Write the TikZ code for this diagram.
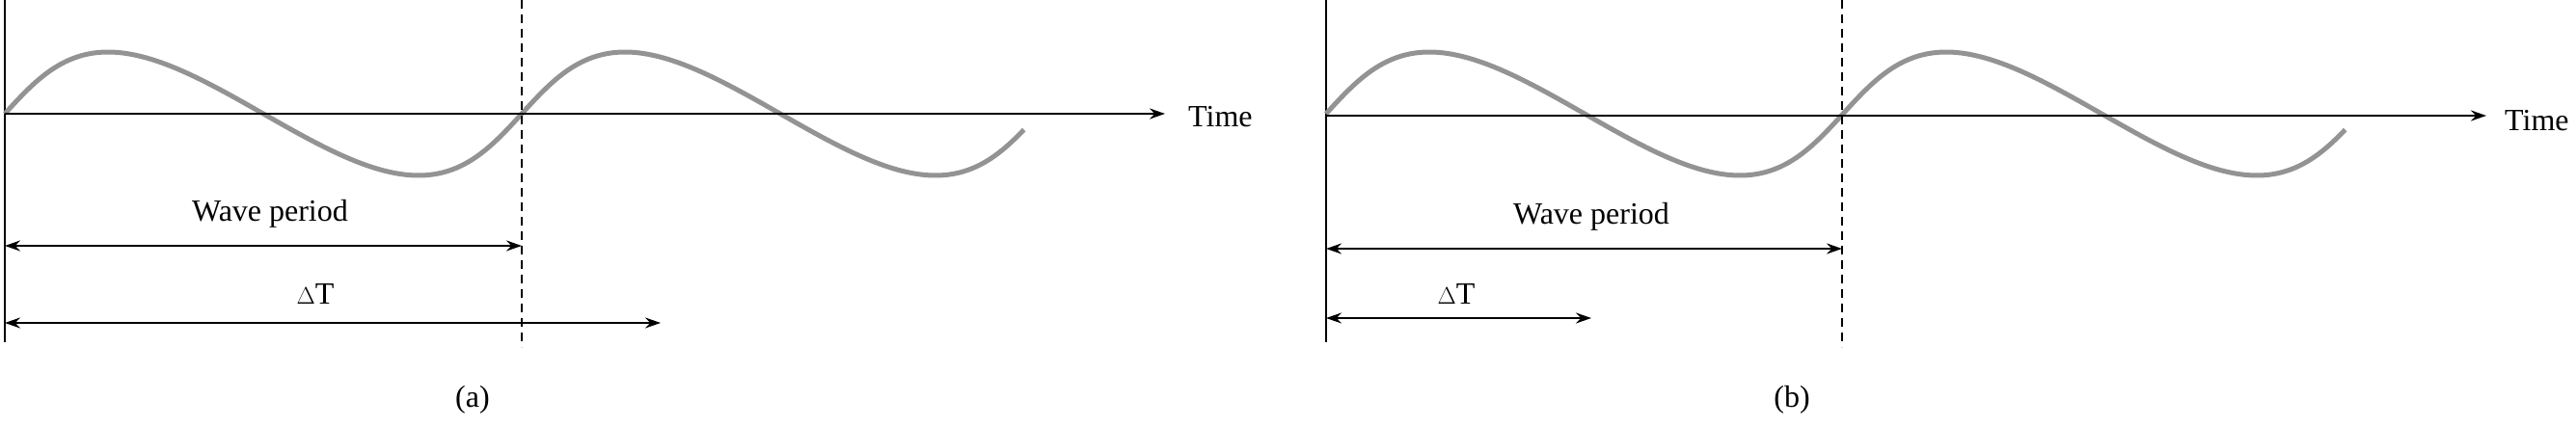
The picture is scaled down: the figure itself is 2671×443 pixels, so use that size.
\documentclass[tikz,border=0pt]{standalone}
\usepackage{fontspec}
\setmainfont{Liberation Serif}
\usetikzlibrary{arrows.meta}
\begin{document}
\begin{tikzpicture}[x=1pt,y=-1pt,
  ax/.style={line width=2.5pt,-{Stealth[length=16pt,width=11pt]}},
  dim/.style={line width=2.2pt,{Stealth[length=16pt,width=11pt]}-{Stealth[length=16pt,width=11pt]}},
  wave/.style={line width=5pt,gray!85},
  dsh/.style={line width=2pt,dash pattern=on 9pt off 6pt},
  lbl/.style={font=\fontsize{32}{38}\selectfont,inner sep=0pt}]
\useasboundingbox (0,0) rectangle (2671,443);
\foreach \ox in {5, 1375}{
  \begin{scope}[xshift=\ox pt]
    \draw[line width=2.2pt] (0,0) -- (0,355);
    \draw[wave] plot[domain=0:705,samples=160,smooth] ({1.4889*\x-27*sin(\x)},{118-64*sin(\x)});
  \end{scope}
}
% panel a
\coordinate (a0) at (5,118); \coordinate (aE) at (1208,118);
\draw[ax] (a0) -- (aE);
\node[lbl,anchor=west] (timea) at (1232,121) {Time};
\draw[dsh] (541,0) -- (541,360);
\coordinate (aw1) at (5,255); \coordinate (aw2) at (541,255);
\draw[dim] (aw1) -- (aw2);
\node[lbl] (wpa) at (280,222) {Wave period};
\coordinate (ad1) at (5,335); \coordinate (ad2) at (685,335);
\draw[dim] (ad1) -- (ad2);
\node[lbl] (dta) at (327,305) {$\Delta$T};
\node[lbl] (capa) at (490,415) {(a)};
% panel b
\coordinate (b0) at (1375,120); \coordinate (bE) at (2578,120);
\draw[ax] (b0) -- (bE);
\node[lbl,anchor=west] (timeb) at (2597,125) {Time};
\draw[dsh] (1910,0) -- (1910,360);
\coordinate (bw1) at (1375,258); \coordinate (bw2) at (1910,258);
\draw[dim] (bw1) -- (bw2);
\node[lbl] (wpb) at (1650,225) {Wave period};
\coordinate (bd1) at (1375,330); \coordinate (bd2) at (1650,330);
\draw[dim] (bd1) -- (bd2);
\node[lbl] (dtb) at (1510,305) {$\Delta$T};
\node[lbl] (capb) at (1858,415) {(b)};
\end{tikzpicture}
\end{document}
